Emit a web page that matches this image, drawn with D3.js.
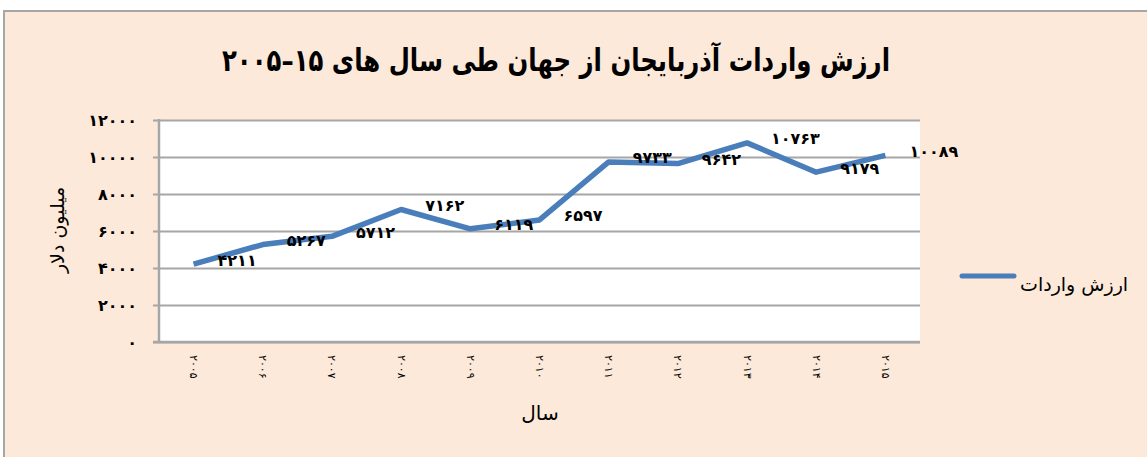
<!DOCTYPE html>
<html>
<head>
<meta charset="utf-8">
<script src="https://cdn.jsdelivr.net/npm/d3@7"></script>
<style>
  body { margin: 0; background: #ffffff; }
  svg { display: block; font-family: "DejaVu Sans", sans-serif; }
</style>
</head>
<body>
<svg id="chart" width="1147" height="457"></svg>
<script>
// data
var years = ["2005", "2006", "2007", "2008", "2009", "2010", "2011", "2012", "2013", "2014", "2015"];
var importValues = [4211, 5267, 5712, 7162, 6119, 6597, 9733, 9642, 10763, 9179, 10089];
var yTickValues = [0, 2000, 4000, 6000, 8000, 10000, 12000];

var titleText = "ارزش واردات آذربایجان از جهان طی سال های ۱۵–۲۰۰۵";
var yTitle = "میلیون دلار";
var xTitle = "سال";
var seriesName = "ارزش واردات";

// latin digits -> persian digits
function fa(v) {
  return String(v).replace(/[0-9]/g, function (d) { return "۰۱۲۳۴۵۶۷۸۹"[+d]; });
}

var svg = d3.select("#chart");
var plot = {left: 159, right: 920, top: 120, bottom: 342};
var gridColor = "#a6a6a6";
var lineColor = "#4a7ebb";

// chart area
svg.append("rect")
  .attr("x", 4).attr("y", 11)
  .attr("width", 1160).attr("height", 460)
  .attr("fill", "#fde9d9")
  .attr("stroke", gridColor)
  .attr("stroke-width", 2);

// plot area
svg.append("rect")
  .attr("x", plot.left).attr("y", plot.top)
  .attr("width", plot.right - plot.left).attr("height", plot.bottom - plot.top)
  .attr("fill", "#ffffff");

var x = d3.scaleBand().domain(years).range([plot.left, plot.right]).padding(0);
var y = d3.scaleLinear().domain([0, 12000]).range([plot.bottom, plot.top]);

// gridlines + tick labels
var yAxis = svg.append("g")
  .attr("transform", "translate(" + plot.left + ",0)")
  .call(d3.axisLeft(y).tickValues(yTickValues).tickSize(6).tickFormat(fa));
yAxis.select(".domain").remove();
yAxis.selectAll(".tick line")
  .attr("x1", -6).attr("x2", plot.right - plot.left)
  .attr("stroke", gridColor).attr("stroke-width", 2);
yAxis.selectAll(".tick text")
  .attr("x", -22)
  .attr("fill", "#000")
  .style("font-size", "16px")
  .style("font-weight", "bold")
  .style("font-family", "DejaVu Sans");

// vertical axis line
svg.append("line")
  .attr("x1", plot.left).attr("x2", plot.left)
  .attr("y1", plot.top - 1).attr("y2", plot.bottom)
  .attr("stroke", gridColor).attr("stroke-width", 2.5);

// category axis
var xAxis = svg.append("g")
  .attr("transform", "translate(0," + plot.bottom + ")")
  .call(d3.axisBottom(x).tickSize(0).tickFormat(fa));
xAxis.select(".domain")
  .attr("d", "M" + (plot.left - 6) + ",0H" + plot.right)
  .attr("stroke", gridColor).attr("stroke-width", 2.5);
xAxis.selectAll(".tick text")
  .attr("y", 0).attr("dy", null)
  .attr("transform", "translate(0,13) rotate(90)")
  .attr("text-anchor", "start")
  .attr("direction", "ltr")
  .attr("unicode-bidi", "bidi-override")
  .attr("dominant-baseline", "central")
  .attr("fill", "#000")
  .style("font-size", "11px")
  .style("font-family", "DejaVu Sans");

// series line
var pts = years.map(function (yr, i) { return {year: yr, value: importValues[i]}; });
var line = d3.line()
  .x(function (d) { return x(d.year) + x.bandwidth() / 2; })
  .y(function (d) { return y(d.value); });

svg.append("path")
  .datum(pts)
  .attr("d", line)
  .attr("fill", "none")
  .attr("stroke", lineColor)
  .attr("stroke-width", 5.5)
  .attr("stroke-linejoin", "round");

// data labels
svg.selectAll(".dlabel")
  .data(pts)
  .enter().append("text")
  .attr("class", "dlabel")
  .attr("x", function (d) { return x(d.year) + x.bandwidth() / 2 + 24; })
  .attr("y", function (d) { return y(d.value) - 4; })
  .attr("dominant-baseline", "central")
  .attr("text-anchor", "start")
  .style("font-size", "16px")
  .style("font-weight", "bold")
  .text(function (d) { return fa(d.value); });

// title
svg.append("text")
  .attr("x", 556).attr("y", 60)
  .attr("direction", "rtl")
  .attr("text-anchor", "middle")
  .attr("dominant-baseline", "central")
  .attr("textLength", 668)
  .attr("lengthAdjust", "spacingAndGlyphs")
  .style("font-size", "31px")
  .style("font-weight", "bold")
  .text(titleText);

// axis titles
svg.append("text")
  .attr("transform", "translate(57,230) rotate(-90)")
  .attr("text-anchor", "middle")
  .attr("dominant-baseline", "central")
  .style("font-size", "19px")
  .text(yTitle);

svg.append("text")
  .attr("x", 540).attr("y", 413)
  .attr("text-anchor", "middle")
  .attr("dominant-baseline", "central")
  .style("font-size", "20px")
  .text(xTitle);

// legend
svg.append("line")
  .attr("x1", 962).attr("x2", 1014)
  .attr("y1", 276).attr("y2", 276)
  .attr("stroke", lineColor).attr("stroke-width", 5)
  .attr("stroke-linecap", "round");
svg.append("text")
  .attr("x", 1020).attr("y", 284)
  .attr("text-anchor", "start")
  .attr("dominant-baseline", "central")
  .style("font-size", "19px")
  .text(seriesName);
</script>
</body>
</html>
